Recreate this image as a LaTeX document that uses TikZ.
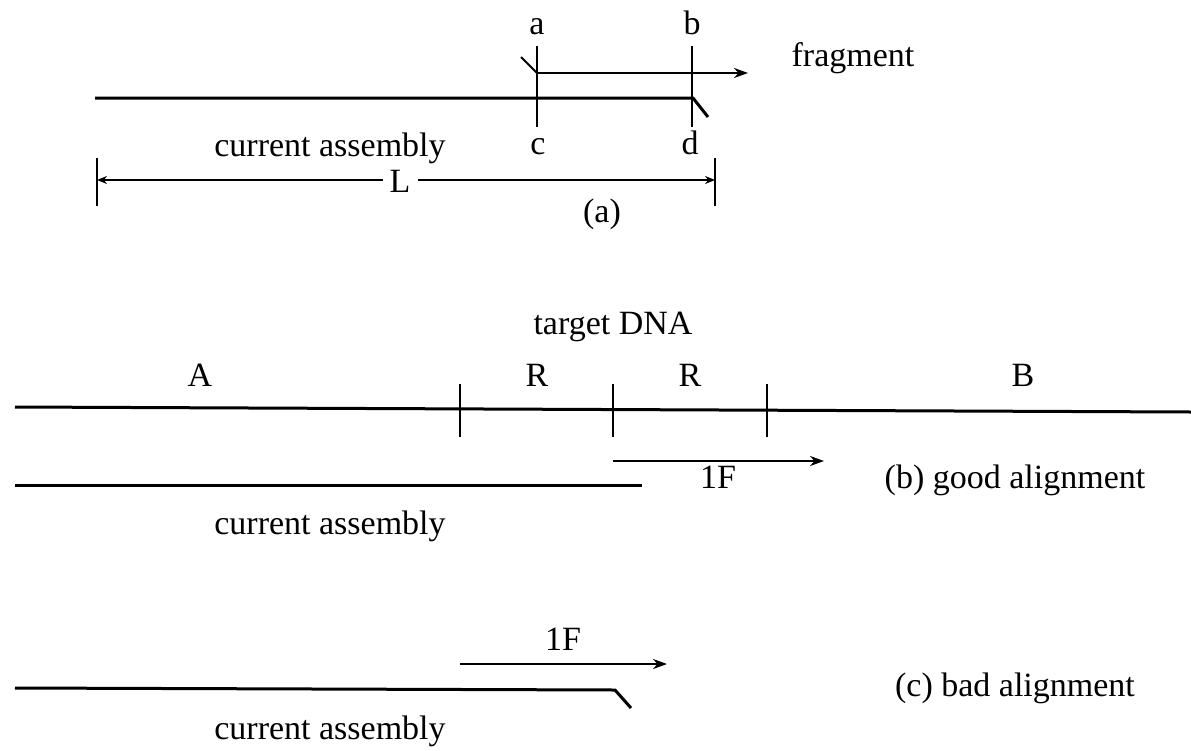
\documentclass[tikz,border=0pt]{standalone}
\usepackage{fontspec}
\setmainfont{Liberation Serif}
\usetikzlibrary{arrows.meta}
\begin{document}
\begin{tikzpicture}[x=1pt,y=-1pt,
  lbl/.style={anchor=base,inner sep=0pt,font=\fontsize{34}{40}\selectfont},
  thick line/.style={line width=3pt},
  tick/.style={line width=1.8pt},
  frag/.style={line width=2.2pt,-{Stealth[length=14pt,width=10pt]}},
  dim/.style={line width=2pt,-{Stealth[length=10pt,width=8pt]}}]
\useasboundingbox (0,0) rectangle (1191,750);
% ---------- (a) ----------
\coordinate (asmS) at (95,98);
\coordinate (asmE) at (693,98);
\coordinate (asmT) at (708,117);
\draw[thick line] (asmS) -- (asmE) -- (asmT);
\coordinate (aTop) at (537,46); \coordinate (aBot) at (537,127);
\coordinate (bTop) at (692,46); \coordinate (bBot) at (692,127);
\draw[tick] (aTop) -- (aBot);
\draw[tick] (bTop) -- (bBot);
\coordinate (fragS) at (537,73);
\coordinate (fragE) at (748,73);
\coordinate (fragT) at (521,57);
\draw[line width=2pt] (fragT) -- (fragS);
\draw[frag] (fragS) -- (fragE);
\node[lbl] (la) at (537,34) {a};
\node[lbl] (lb) at (692,34) {b};
\node[lbl] (lc) at (538,154) {c};
\node[lbl] (ld) at (690,154) {d};
\node[lbl] (lfrag) at (853,66) {fragment};
\node[lbl] (lcur1) at (330,156) {current assembly};
\coordinate (Ltl) at (97,158); \coordinate (Lbl) at (97,206);
\coordinate (Ltr) at (715,158); \coordinate (Lbr) at (715,206);
\draw[tick] (Ltl) -- (Lbl);
\draw[tick] (Ltr) -- (Lbr);
\node[lbl] (L) at (400,192) {L};
\coordinate (Ll) at (97,180); \coordinate (Lr) at (715,180);
\coordinate (Lml) at (383,180); \coordinate (Lmr) at (418,180);
\draw[dim] (Lml) -- (Ll);
\draw[dim] (Lmr) -- (Lr);
\node[lbl] (capa) at (602,222) {(a)};
% ---------- (b) ----------
\node[lbl] (tdna) at (613,334) {target DNA};
\node[lbl] (lA) at (200,386) {A};
\node[lbl] (lR1) at (537,386) {R};
\node[lbl] (lR2) at (690,386) {R};
\node[lbl] (lB) at (1023,386) {B};
\coordinate (dnaS) at (15,407);
\coordinate (dnaE) at (1191,412);
\draw[thick line] (dnaS) -- (dnaE);
\foreach \x/\n in {460/t1,613/t2,767/t3}{
  \coordinate (\n a) at (\x,384);
  \coordinate (\n b) at (\x,437);
  \draw[tick] (\n a) -- (\n b);
}
\coordinate (bfS) at (613,461);
\coordinate (bfE) at (824,461);
\draw[frag] (bfS) -- (bfE);
\node[lbl] (l1Fb) at (718,488) {1F};
\node[lbl] (capb) at (1015,488) {(b) good alignment};
\coordinate (basmS) at (15,485);
\coordinate (basmE) at (642,485);
\draw[thick line] (basmS) -- (basmE);
\node[lbl] (lcur2) at (330,534) {current assembly};
% ---------- (c) ----------
\coordinate (cfS) at (460,664);
\coordinate (cfE) at (667,664);
\draw[frag] (cfS) -- (cfE);
\node[lbl] (l1Fc) at (563,650) {1F};
\coordinate (casmS) at (15,688);
\coordinate (casmE) at (615,690);
\coordinate (casmT) at (631,708);
\draw[thick line] (casmS) -- (casmE) -- (casmT);
\node[lbl] (capc) at (1015,696) {(c) bad alignment};
\node[lbl] (lcur3) at (330,739) {current assembly};
\end{tikzpicture}
\end{document}
